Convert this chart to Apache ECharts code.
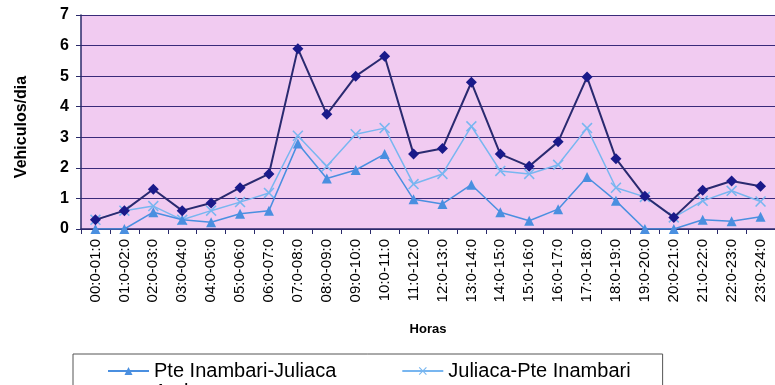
<!DOCTYPE html>
<html>
<head>
<meta charset="utf-8">
<script src="https://cdn.jsdelivr.net/npm/echarts@6/dist/echarts.min.js"></script>
<style>
html,body{margin:0;padding:0;background:#fff;}
#c{width:775px;height:385px;}
</style>
</head>
<body>
<div id="c"></div>
<script>
const categories = ["00:0-01:0","01:0-02:0","02:0-03:0","03:0-04:0","04:0-05:0","05:0-06:0","06:0-07:0","07:0-08:0","08:0-09:0","09:0-10:0","10:0-11:0","11:0-12:0","12:0-13:0","13:0-14:0","14:0-15:0","15:0-16:0","16:0-17:0","17:0-18:0","18:0-19:0","19:0-20:0","20:0-21:0","21:0-22:0","22:0-23:0","23:0-24:0"];
const pteJuliaca = [0, 0, 0.55, 0.3, 0.22, 0.5, 0.6, 2.8, 1.65, 1.93, 2.45, 0.97, 0.82, 1.45, 0.55, 0.27, 0.65, 1.7, 0.92, 0, 0, 0.3, 0.25, 0.4];
const juliacaPte = [0.3, 0.6, 0.75, 0.3, 0.6, 0.88, 1.18, 3.05, 2.05, 3.1, 3.3, 1.47, 1.8, 3.36, 1.9, 1.8, 2.1, 3.3, 1.35, 1.05, 0.38, 0.92, 1.25, 0.9];
const ambos = [0.3, 0.6, 1.3, 0.6, 0.85, 1.35, 1.8, 5.9, 3.75, 5.0, 5.65, 2.45, 2.63, 4.8, 2.45, 2.05, 2.85, 4.97, 2.3, 1.07, 0.38, 1.27, 1.57, 1.4];
const yTicks = [0,1,2,3,4,5,6,7];

const xPath = 'path://M1,0 L5,4 L9,0 L10,1 L6,5 L10,9 L9,10 L5,6 L1,10 L0,9 L4,5 L0,1 Z';
const FONT = 'Liberation Sans, Arial, sans-serif';
const chart = echarts.init(document.getElementById('c'), null, {renderer:'canvas'});
chart.setOption({
  backgroundColor:'#ffffff',
  animation:false,
  textStyle:{fontFamily:FONT},
  grid:{left:81, top:15, width:700, height:214, show:true, backgroundColor:'#f1cbf1', borderWidth:0},
  legend:[{
    left:73, top:354,
    padding:[7,32,30,34], itemGap:65, itemWidth:41, itemHeight:10,
    borderColor:'#555', borderWidth:1,
    textStyle:{fontSize:20, color:'#000', fontFamily:FONT},
    data:['Pte Inambari-Juliaca','Juliaca-Pte Inambari']
  },{
    left:107, top:382, padding:0, itemWidth:41, itemHeight:10,
    textStyle:{fontSize:20, color:'#000', fontFamily:FONT},
    data:['Ambos']
  }],
  xAxis:{
    type:'category', data:categories, boundaryGap:true,
    name:'Horas', nameLocation:'middle', nameGap:94,
    nameTextStyle:{fontWeight:'bold', fontSize:13, color:'#000'},
    axisLine:{lineStyle:{color:'#2a2a6a', width:1.5}},
    axisTick:{show:true, interval:0, lineStyle:{color:'#2a2a6a'}},
    axisLabel:{rotate:90, interval:0, fontSize:15, color:'#000', margin:10}
  },
  yAxis:{
    type:'value', min:yTicks[0], max:yTicks[yTicks.length-1], interval:1,
    name:'Vehiculos/dia', nameLocation:'middle', nameGap:51, nameRotate:90,
    nameTextStyle:{fontWeight:'bold', fontSize:16, color:'#000', padding:[0,0,0,-10]},
    axisLine:{show:true, lineStyle:{color:'#2a2a6a', width:1.5}},
    axisTick:{show:true, lineStyle:{color:'#2a2a6a'}},
    axisLabel:{fontSize:16, fontWeight:'bold', color:'#000', margin:12},
    splitLine:{lineStyle:{color:'#3a2a7a', width:1}}
  },
  series:[
    {name:'Pte Inambari-Juliaca', type:'line', data:pteJuliaca, symbol:'triangle', symbolSize:10, z:3,
     itemStyle:{color:'#4a8fe0'}, lineStyle:{color:'#4a8fe0', width:1.5}},
    {name:'Juliaca-Pte Inambari', type:'line', data:juliacaPte, symbol:xPath, symbolSize:11, z:2,
     itemStyle:{color:'#78b6f0'}, lineStyle:{color:'#78b6f0', width:1.5}},
    {name:'Ambos', type:'line', data:ambos, symbol:'diamond', symbolSize:11, z:4,
     itemStyle:{color:'#1a1a8a'}, lineStyle:{color:'#2a2a70', width:2}}
  ]
});
</script>
</body>
</html>
